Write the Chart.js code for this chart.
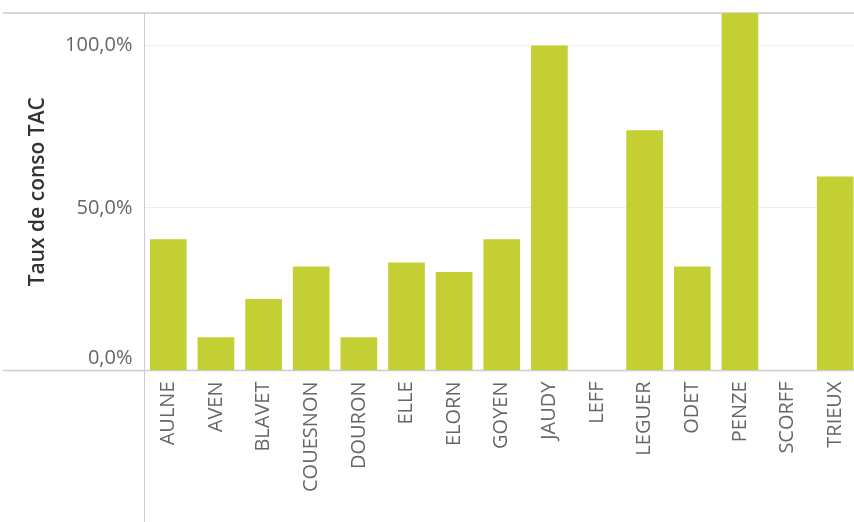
<!DOCTYPE html>
<html>
<head>
<meta charset="utf-8">
<script src="https://cdn.jsdelivr.net/npm/chart.js@4/dist/chart.umd.min.js"></script>
<style>
  html, body { margin: 0; padding: 0; background: #fff; overflow: hidden; }
  #wrap { position: relative; width: 859px; height: 522px; }
</style>
</head>
<body>
<div id="wrap"><canvas id="c"></canvas></div>
<script>
const categories = ['AULNE','AVEN','BLAVET','COUESNON','DOURON','ELLE','ELORN','GOYEN','JAUDY','LEFF','LEGUER','ODET','PENZE','SCORFF','TRIEUX'];
const tauxConso = [40.4, 10.2, 22.0, 32.0, 10.2, 33.2, 30.3, 40.4, 100.0, 0, 73.9, 32.0, 112.0, 0, 59.7];
const yTickValues = [0, 50, 100];
const yTitle = 'Taux de conso TAC';

function fmtPct(v) {
  return v.toFixed(1).replace('.', ',') + '%';
}

const framePlugin = {
  id: 'frame',
  beforeDatasetsDraw(chart) {
    const {ctx, chartArea} = chart;
    const y = chart.scales.y;
    const zeroY = y.getPixelForValue(0);
    ctx.save();
    ctx.strokeStyle = '#cccccc';
    ctx.lineWidth = 1.5;
    ctx.beginPath();
    ctx.moveTo(3, chartArea.top);
    ctx.lineTo(chart.width, chartArea.top);
    ctx.moveTo(3, zeroY);
    ctx.lineTo(chart.width, zeroY);
    ctx.stroke();
    ctx.lineWidth = 1;
    ctx.beginPath();
    ctx.moveTo(chartArea.left, chartArea.top);
    ctx.lineTo(chartArea.left, chart.height);
    ctx.stroke();
    ctx.restore();
  }
};

new Chart(document.getElementById('c'), {
  type: 'bar',
  data: {
    labels: categories,
    datasets: [{
      data: tauxConso,
      backgroundColor: '#c3cf33',
      borderWidth: 0,
      barPercentage: 0.77,
      categoryPercentage: 1.0
    }]
  },
  options: {
    responsive: true,
    maintainAspectRatio: false,
    animation: false,
    devicePixelRatio: 1,
    layout: { padding: { top: 13, left: 0, right: 0, bottom: 0 } },
    plugins: { legend: { display: false }, tooltip: { enabled: false } },
    scales: {
      x: {
        grid: { display: false, drawTicks: false },
        border: { display: false },
        ticks: {
          autoSkip: false,
          maxRotation: 90,
          minRotation: 90,
          padding: 11,
          color: '#666666',
          font: { family: 'Open Sans', size: 20 }
        },
        afterFit(scale) {
          scale.height = 151.5;
          scale.paddingLeft = 0;
          scale.paddingRight = 0;
        }
      },
      y: {
        min: 0,
        max: 110,
        grid: {
          drawTicks: false,
          color: (c) => (c.tick && c.tick.value === 0) ? 'rgba(0,0,0,0)' : '#eeeeee',
          lineWidth: 1
        },
        border: { display: false },
        afterBuildTicks(scale) {
          scale.ticks = yTickValues.map(v => ({ value: v }));
        },
        ticks: {
          padding: 12,
          color: '#666666',
          font: { family: 'Open Sans', size: 20, lineHeight: 1.2 },
          callback: (v) => v === 0 ? [fmtPct(v), ''] : fmtPct(v)
        },
        title: {
          display: true,
          text: yTitle,
          color: '#333333',
          font: { family: 'Open Sans', size: 21, weight: '600' },
          padding: { top: 25, bottom: 0 }
        },
        afterFit(scale) {
          scale.width = 144.5;
          scale.paddingTop = 0;
          scale.paddingBottom = 0;
        }
      }
    }
  },
  plugins: [framePlugin]
});
</script>
</body>
</html>
